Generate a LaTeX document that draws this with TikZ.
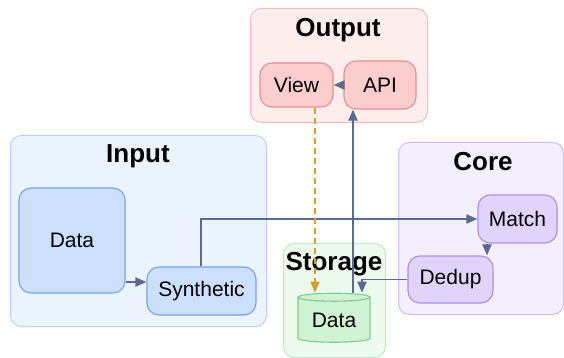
\documentclass[tikz,border=0pt]{standalone}
\usepackage{fontspec}
\setmainfont{Liberation Sans}
\usetikzlibrary{shapes.geometric,arrows.meta}

\definecolor{edgecol}{HTML}{5B6B8E}
\definecolor{dashcol}{HTML}{D4A030}
\definecolor{inbg}{HTML}{EBF3FE}
\definecolor{inline}{HTML}{BBD3F7}
\definecolor{infill}{HTML}{CCE0FD}
\definecolor{indraw}{HTML}{73A4EB}
\definecolor{outbg}{HTML}{FEEDED}
\definecolor{outline}{HTML}{F7BCBC}
\definecolor{outfill}{HTML}{FBCDCD}
\definecolor{outdraw}{HTML}{E6908F}
\definecolor{corebg}{HTML}{F3EFFE}
\definecolor{coreline}{HTML}{CDBEF6}
\definecolor{corefill}{HTML}{E0D3FC}
\definecolor{coredraw}{HTML}{AC8EEA}
\definecolor{storebg}{HTML}{EDFBEE}
\definecolor{storeline}{HTML}{BDEABF}
\definecolor{storefill}{HTML}{D0F3D4}
\definecolor{storedraw}{HTML}{7ECB8E}

\begin{document}
\begin{tikzpicture}[x=1pt, y=-1pt,
	cluster/.style = {draw, rounded corners=11pt, line width=1pt, anchor=north west, inner sep=0pt},
	title/.style = {font=\fontsize{26}{28}\selectfont\bfseries},
	box/.style = {draw, rounded corners=12pt, line width=1.1pt, font=\fontsize{21}{23}\selectfont},
	inbox/.style = {box, fill=infill, draw=indraw},
	outbox/.style = {box, fill=outfill, draw=outdraw},
	corebox/.style = {box, fill=corefill, draw=coredraw},
	tip/.style = {-{Triangle[length=11pt,width=9pt]}},
	link/.style = {draw=edgecol, line width=1.8pt, tip},
	uilink/.style = {draw=dashcol, line width=1.6pt, dash pattern=on 6pt off 4pt, tip}]
	\useasboundingbox (0,0) rectangle (564,358);
	% clusters
	\node[cluster, fill=inbg, draw=inline, minimum width=256, minimum height=191] (inputcl) at (10,135) {};
	\node[cluster, fill=outbg, draw=outline, minimum width=177, minimum height=114] (outputcl) at (250,8) {};
	\node[cluster, fill=corebg, draw=coreline, minimum width=165, minimum height=172] (corecl) at (398,142) {};
	\node[cluster, fill=storebg, draw=storeline, minimum width=102, minimum height=114] (storecl) at (283,243) {};
	\node[title] (inputt) at (138,156) {Input};
	\node[title] (outputt) at (338,30) {Output};
	\node[title] (coret) at (483,162) {Core};
	\node[title] (storet) at (334,264) {Storage};
	% nodes
	\node[inbox, minimum width=106, minimum height=105] (data) at (72,240.5) {Data};
	\node[inbox, minimum width=109, minimum height=48] (synth) at (201.5,291) {Synthetic};
	\node[outbox, minimum width=73, minimum height=44] (view) at (296.5,85) {View};
	\node[outbox, minimum width=72, minimum height=48] (api) at (380,85) {API};
	\node[corebox, minimum width=79, minimum height=48] (match) at (517.5,219) {Match};
	\node[corebox, minimum width=85, minimum height=47] (dedup) at (450.5,279.5) {Dedup};
	\node[cylinder, shape border rotate=90, aspect=0.18, draw=storedraw, fill=storefill, line width=1.1pt, inner sep=0pt,
		minimum width=72, minimum height=49, font=\fontsize{21}{23}\selectfont] (store) at (334,320) {Data};
	% edges
	\draw[link] (data.east |- 0,282) -- (synth.west |- 0,282);
	\draw[link] (synth.north -| 201,0) |- (match.west);
	\draw[link] (match.south -| 487,0) -- (dedup.north -| 487,0);
	\draw[link] (dedup.west) -| (store.north -| 362,0);
	\draw[link] (store.north -| 353,0) -- (api.south -| 353,0);
	\draw[link] (api.west) -- (view.east);
	\draw[uilink] (view.south -| 315,0) -- (store.north -| 315,0);
\end{tikzpicture}
\end{document}
